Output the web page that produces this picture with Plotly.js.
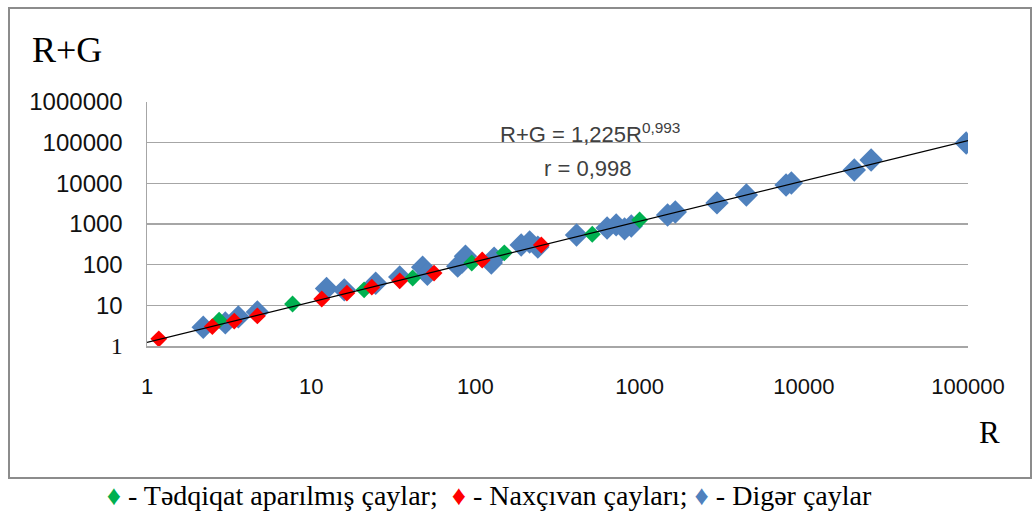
<!DOCTYPE html>
<html>
<head>
<meta charset="utf-8">
<script src="https://cdn.plot.ly/plotly-3.0.1.min.js"></script>
<style>
  html, body { margin: 0; padding: 0; background: #ffffff; }
  #wrap { position: relative; width: 1036px; height: 513px; overflow: hidden; }
  #frame { position: absolute; left: 8px; top: 7px; width: 1020px; height: 468px; border: 2px solid #8c8c8c; }
  #chart { position: absolute; left: 0; top: 0; width: 1036px; height: 513px; }
  #legend { position: absolute; left: 0; top: 480px; width: 978px; text-align: center;
            font-family: 'Liberation Serif', 'Times New Roman', serif; font-size: 28px; line-height: 32px; color: #000; white-space: pre; }
</style>
</head>
<body>
<div id="wrap">
  <div id="frame"></div>
  <div id="chart"></div>
  <div id="legend"></div>
</div>
<script>
// Tədqiqat aparılmış çaylar (green)
const greenR  = [2.75, 7.7, 21, 41.5, 95, 150, 515, 1000];
const greenRG = [4.3, 10.8, 24, 47, 110, 195, 560, 1250];

// Naxçıvan çayları (red)
const redR  = [1.18, 2.5, 3.4, 4.7, 11.6, 16.5, 23.4, 34.6, 56, 110, 252];
const redRG = [1.5, 3.0, 4.1, 5.5, 14.3, 20, 28, 40, 62, 130, 305];

// Digər çaylar (blue)
const blueR  = [2.2, 3.0, 3.6, 4.7, 12.4, 15.9, 24.7, 34.6, 47.7, 51, 78, 83, 87, 125, 130, 190, 214, 240, 413, 634, 720, 810, 890, 1480, 1650, 2960, 4470, 7800, 8400, 20300, 25700, 97500];
const blueRG = [2.9, 3.7, 5.2, 6.9, 26, 24, 35, 50, 87, 58, 92, 116, 162, 110, 145, 305, 360, 270, 535, 800, 950, 760, 890, 1660, 1970, 3300, 5150, 9100, 10200, 21200, 37500, 98000];

// Power trendline R+G = a * R^b
const trendCoef = [1.225, 0.993];
const trendR = [1, 100000];
const trendRG = trendR.map(r => trendCoef[0] * Math.pow(r, trendCoef[1]));

const xTicks = [1, 10, 100, 1000, 10000, 100000];
const xTickText = ["1", "10", "100", "1000", "10000", "100000"];
const yTicks = [1, 10, 100, 1000, 10000, 100000, 1000000];
const yTickText = ['<span style="font-family:\'Liberation Serif\'">1</span>', "10", "100", "1000", "10000", "100000", "1000000"];

const seriesNames = ["Tədqiqat aparılmış çaylar", "Naxçıvan çayları", "Digər çaylar"];

const BLUE = "#4F81BD", RED = "#FF0000", GREEN = "#00B050";

const traces = [
  { x: blueR, y: blueRG, type: "scatter", mode: "markers", name: seriesNames[2],
    marker: { symbol: "diamond", size: 18, color: BLUE } },
  { x: greenR, y: greenRG, type: "scatter", mode: "markers", name: seriesNames[0],
    marker: { symbol: "diamond", size: 13, color: GREEN } },
  { x: redR, y: redRG, type: "scatter", mode: "markers", name: seriesNames[1],
    marker: { symbol: "diamond", size: 13, color: RED } },
  { x: trendR, y: trendRG, type: "scatter", mode: "lines", name: "trend",
    line: { color: "#000000", width: 1.3 } }
];

const sans = "Liberation Sans, Arial, sans-serif";
const serif = "'Liberation Serif', 'Times New Roman', serif";

const layout = {
  width: 1036, height: 513,
  margin: { l: 147, r: 68, t: 102, b: 167 },
  paper_bgcolor: "rgba(0,0,0,0)",
  plot_bgcolor: "rgba(0,0,0,0)",
  showlegend: false,
  xaxis: {
    type: "log", range: [0, 5],
    tickvals: xTicks, ticktext: xTickText,
    showgrid: false, zeroline: false,
    showline: true, linecolor: "#a6a6a6", linewidth: 1.5,
    ticks: "", ticklabelstandoff: 20,
    tickfont: { family: sans, size: 22, color: "#111111" }
  },
  yaxis: {
    type: "log", range: [0, 6],
    tickvals: yTicks, ticktext: yTickText,
    showgrid: true, gridcolor: "#a6a6a6", gridwidth: 1.5,
    zeroline: false,
    showline: true, linecolor: "#a6a6a6", linewidth: 1.5,
    ticks: "", ticklabelstandoff: 18,
    tickfont: { family: sans, size: 24, color: "#111111" }
  },
  annotations: [
    { xref: "paper", yref: "paper", x: (67 - 147) / 821, y: (346 - 50) / 244,
      text: "R+G", showarrow: false, xanchor: "center", yanchor: "middle",
      font: { family: serif, size: 36, color: "#000000" } },
    { xref: "paper", yref: "paper", x: (989 - 147) / 821, y: (346 - 432) / 244,
      text: "R", showarrow: false, xanchor: "center", yanchor: "middle",
      font: { family: serif, size: 31, color: "#000000" } },
    { xref: "paper", yref: "paper", x: (590 - 147) / 821, y: (346 - 133) / 244,
      text: "R+G = 1,225R<sup>0,993</sup>", showarrow: false, xanchor: "center", yanchor: "middle",
      font: { family: sans, size: 22, color: "#404040" } },
    { xref: "paper", yref: "paper", x: (587 - 147) / 821, y: (346 - 168) / 244,
      text: "r = 0,998", showarrow: false, xanchor: "center", yanchor: "middle",
      font: { family: sans, size: 22, color: "#404040" } }
  ]
};

// Legend line under the frame (real text)
const legendColors = [GREEN, RED, BLUE];
const legendSeps = [";  ", "; ", ""];
const legendEl = document.getElementById("legend");
seriesNames.forEach((nm, i) => {
  const d = document.createElement("span");
  d.style.color = legendColors[i];
  d.textContent = "♦";
  legendEl.appendChild(d);
  legendEl.appendChild(document.createTextNode(" - " + nm + legendSeps[i]));
});

Plotly.newPlot("chart", traces, layout, { displayModeBar: false, staticPlot: true });
</script>
</body>
</html>
